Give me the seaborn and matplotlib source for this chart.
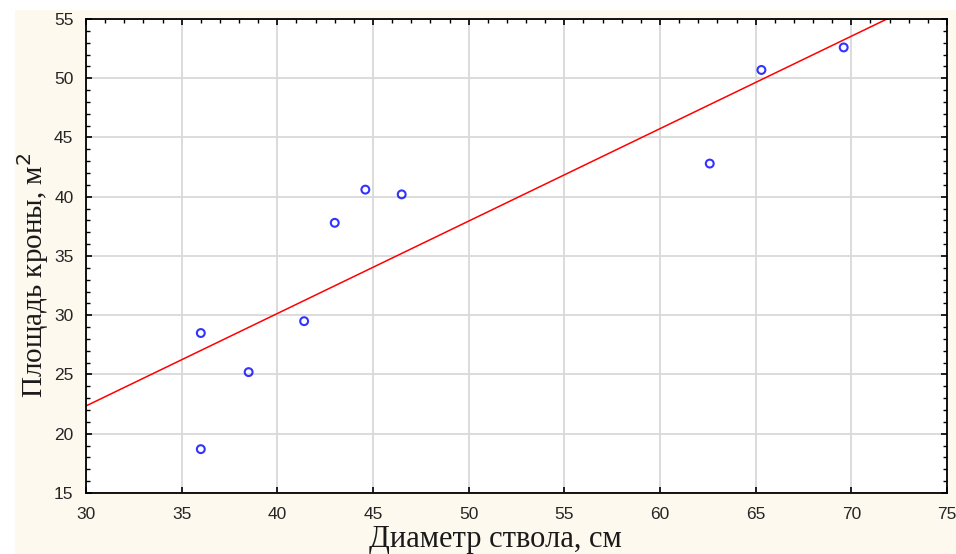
import matplotlib
matplotlib.use("Agg")
import matplotlib.pyplot as plt
import matplotlib.patches as mpatches
from matplotlib.ticker import MultipleLocator
import numpy as np
import pandas as pd
import seaborn as sns

# stem diameter (cm) vs crown area (m^2)
diameter = [36.0, 36.0, 38.5, 41.4, 43.0, 44.6, 46.5, 62.6, 65.3, 69.6]
crown_area = [28.5, 18.7, 25.2, 29.5, 37.8, 40.6, 40.2, 42.8, 50.7, 52.6]

x_ticks = [30, 35, 40, 45, 50, 55, 60, 65, 70, 75]
y_ticks = [15, 20, 25, 30, 35, 40, 45, 50, 55]

df = pd.DataFrame({"d": diameter, "s": crown_area})

sns.set_style("white")
plt.rcParams["font.family"] = ["Liberation Sans", "DejaVu Sans"]

fig = plt.figure(figsize=(9.56, 5.54), dpi=100, facecolor="#fef9ee")
# white screenshot margins on top and left
fig.add_artist(mpatches.Rectangle((0, 1 - 10 / 554), 1, 10 / 554,
                                  transform=fig.transFigure,
                                  facecolor="white", edgecolor="none", zorder=-5))
fig.add_artist(mpatches.Rectangle((0, 0), 15 / 956, 1,
                                  transform=fig.transFigure,
                                  facecolor="white", edgecolor="none", zorder=-5))
ax = fig.add_axes([86 / 956, 1 - 493 / 554, 861 / 956, 474 / 554])
ax.set_facecolor("white")

ax.set_xlim(30, 75)
ax.set_ylim(15, 55)

sns.regplot(data=df, x="d", y="s", ci=None, truncate=False, ax=ax,
            scatter_kws=dict(s=32, facecolors="none", edgecolors="#0000ff",
                             linewidths=1.5, zorder=3),
            line_kws=dict(color="#ff0000", lw=1.1, zorder=2))

ax.set_xlim(30, 75)
ax.set_ylim(15, 55)
ax.set_xticks(x_ticks)
ax.set_yticks(y_ticks)
ax.xaxis.set_minor_locator(MultipleLocator(1))
ax.yaxis.set_minor_locator(MultipleLocator(1))

ax.grid(True, which="major", color="#d9d9d9", lw=1.3)
ax.set_axisbelow(True)
for sp in ax.spines.values():
    sp.set_color("black")
    sp.set_linewidth(1.3)
    sp.set_visible(True)

ax.tick_params(which="both", direction="in", top=True, right=True,
               bottom=True, left=True, color="black")
ax.tick_params(which="major", length=4, width=1.2, labelsize=12.5,
               labelcolor="#262626")
ax.tick_params(which="minor", length=3, width=1.0, bottom=False)
ax.tick_params(axis="x", which="major", pad=10)
ax.tick_params(axis="y", which="major", pad=9)

ax.set_xlabel("Диаметр ствола, см", family=["Liberation Serif", "DejaVu Serif"],
              fontsize=22, color="#1a1a1a")
ax.set_ylabel("Площадь кроны, м$^2$", family=["Liberation Serif", "DejaVu Serif"],
              fontsize=21, color="#1a1a1a")
ax.xaxis.set_label_coords(0.475, -0.068)
ax.yaxis.set_label_coords(-0.041, 0.46)

fig.savefig("out.png", dpi=100, facecolor=fig.get_facecolor())
